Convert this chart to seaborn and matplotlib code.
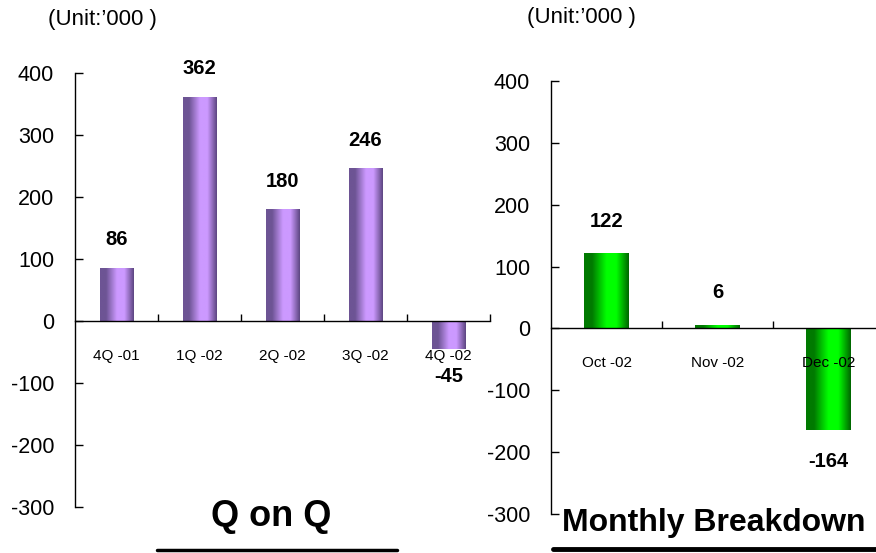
import matplotlib
matplotlib.use("Agg")
import matplotlib.pyplot as plt
from matplotlib.colors import LinearSegmentedColormap
import numpy as np
import pandas as pd
import seaborn as sns

# Quarterly and monthly net changes (thousands)
quarters = ["4Q -01", "1Q -02", "2Q -02", "3Q -02", "4Q -02"]
quarter_values = [86, 362, 180, 246, -45]
months = ["Oct -02", "Nov -02", "Dec -02"]
month_values = [122, 6, -164]
y_ticks = [-300, -200, -100, 0, 100, 200, 300, 400]

sns.set_theme(style="white")
plt.rcParams["font.family"] = ["Liberation Sans", "DejaVu Sans"]
for key in ["text.color", "axes.labelcolor", "xtick.color", "ytick.color", "axes.edgecolor"]:
    plt.rcParams[key] = "black"

fig = plt.figure(figsize=(8.76, 5.53), dpi=100)
W, H = 876, 553


def px_axes(x0, x1, y_top, y_bot):
    return fig.add_axes([x0 / W, (H - y_bot) / H, (x1 - x0) / W, (y_bot - y_top) / H])


def cylinder_cmap(edge_l, center, edge_r):
    return LinearSegmentedColormap.from_list(
        "cyl", [(0, edge_l), (0.18, edge_l), (0.5, center), (0.72, center), (1, edge_r)]
    )


def draw_panel(ax, cats, vals, cmap, label_pad, off_pos, off_neg):
    df = pd.DataFrame({"cat": cats, "val": vals})
    sns.barplot(data=df, x="cat", y="val", ax=ax, width=0.4, color="#999999",
                edgecolor="none", linewidth=0, zorder=0.5)
    grad = np.linspace(0, 1, 256).reshape(1, -1)
    for p in ax.patches:
        x0, w = p.get_x(), p.get_width()
        y0, h = p.get_y(), p.get_height()
        ys = sorted([y0, y0 + h])
        im = ax.imshow(grad, cmap=cmap, aspect="auto", extent=[x0, x0 + w, ys[0], ys[1]],
                       zorder=1, interpolation="bilinear")
        im.set_clip_path(p)
        p.set_facecolor("none")
    ax.set_axisbelow(False)
    n = len(cats)
    ax.set_xlim(-0.5, n - 0.5)
    ax.set_ylim(-300, 400)
    ax.set_xlabel("")
    ax.set_ylabel("")
    for s in ["top", "right"]:
        ax.spines[s].set_visible(False)
    ax.spines["bottom"].set_position(("data", 0))
    for s in ["left", "bottom"]:
        ax.spines[s].set_color("black")
        ax.spines[s].set_linewidth(1.0)
    ax.set_yticks(y_ticks)
    ax.set_yticklabels([str(t) for t in y_ticks], fontsize=15.5)
    ax.tick_params(axis="y", direction="in", length=6, width=1, color="black",
                   pad=15, left=True, labelcolor="black")
    ax.set_xticks(range(n))
    ax.set_xticklabels(cats, fontsize=11)
    ax.set_xticks(np.arange(0.5, n, 1.0), minor=True)
    ax.tick_params(axis="x", which="major", length=0, pad=label_pad, bottom=True,
                   labelcolor="black")
    ax.tick_params(axis="x", which="minor", direction="in", length=5, width=1,
                   color="black", bottom=True)
    for i, v in enumerate(vals):
        off = off_pos if v >= 0 else off_neg
        ax.annotate(f"{v}", (i, v), xytext=(0, off), textcoords="offset points",
                    ha="center", va="center", fontsize=14.5, fontweight="bold",
                    color="black", zorder=5)
    ax.patch.set_alpha(0)


purple = cylinder_cmap("#6d5494", "#cc99ff", "#5c4580")
green = cylinder_cmap("#007a00", "#00ff00", "#006400")

ax1 = px_axes(75, 490, 73, 507)
draw_panel(ax1, quarters, quarter_values, purple, 20, 20, -20)

ax2 = px_axes(551, 884, 81, 514)
draw_panel(ax2, months, month_values, green, 20, 23, -23)

# Unit notes, panel titles and underline rules
fig.text(102 / W, 1 - 20 / H, "(Unit:\u2019000 )", fontsize=16, ha="center", va="center")
fig.text(581 / W, 1 - 18 / H, "(Unit:\u2019000 )", fontsize=16, ha="center", va="center")
fig.text(271 / W, 1 - 517 / H, "Q on Q", fontsize=26, fontweight="bold", ha="center", va="center")
fig.text(714 / W, 1 - 523 / H, "Monthly Breakdown", fontsize=23, fontweight="bold",
         ha="center", va="center")
fig.add_artist(plt.Line2D([157 / W, 397 / W], [1 - 550 / H, 1 - 550 / H], color="black",
                          linewidth=2.5, transform=fig.transFigure))
fig.add_artist(plt.Line2D([553 / W, 876 / W], [1 - 549 / H, 1 - 549 / H], color="black",
                          linewidth=3.5, transform=fig.transFigure))

fig.savefig("out.png", dpi=100)
